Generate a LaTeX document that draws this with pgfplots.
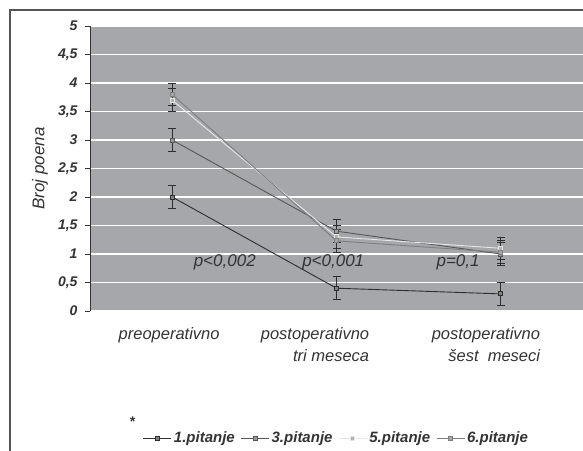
\documentclass[border=0pt]{standalone}
\usepackage{fontspec}
\setmainfont{Liberation Sans}
\usepackage{pgfplots}
\pgfplotsset{compat=1.18}
\definecolor{bg}{HTML}{A6A7AB}
\definecolor{frame}{HTML}{555555}
\definecolor{txt}{HTML}{333333}
\definecolor{ebar}{HTML}{2E2E2E}
\definecolor{sA}{HTML}{2E2E2E}
\definecolor{sB}{HTML}{575757}
\definecolor{sC}{HTML}{E6E6E6}
\definecolor{sD}{HTML}{7F7F7F}
\begin{document}
\begin{tikzpicture}
\useasboundingbox (-90bp,-140bp) rectangle (493bp,311bp);
\draw[line width=1.3bp, color=frame] (-80bp,-141bp) -- (-80bp,301bp) -- (494bp,301bp);
\begin{axis}[
  at={(0,0)}, anchor=south west,
  scale only axis, width=493bp, height=285bp,
  xmin=-0.5, xmax=2.5, ymin=0, ymax=5,
  clip=false,
  axis background/.style={fill=bg},
  axis lines*=left,
  x axis line style={draw=none},
  y axis line style={color=txt, line width=0.8bp},
  ytick={0,0.5,1,1.5,2,2.5,3,3.5,4,4.5,5},
  tick align=outside, major tick length=5bp,
  ytick style={color=txt, line width=0.8bp},
  xtick style={draw=none},
  ymajorgrids, grid style={white, line width=1.3bp},
  /pgf/number format/assume math mode=true,
  /pgf/number format/use comma,
  yticklabel style={font=\fontsize{14bp}{16bp}\selectfont\bfseries\itshape, text=txt, anchor=east, xshift=-4bp},
  xtick={0.31,1.22,2.26},
  xticklabels={preoperativno,{postoperativno\\tri meseca},{postoperativno\\šest\ \ meseci}},
  xticklabel style={font=\fontsize{16.5bp}{22bp}\selectfont\itshape, text=txt, anchor=north east, align=right, yshift=-8bp},
  ylabel={Broj poena},
  every axis y label/.style={at={(rel axis cs:-0.1014,0.5)}, rotate=90, anchor=center, font=\fontsize{17bp}{20bp}\selectfont\itshape, text=txt},
  legend columns=4,
  legend style={at={(rel axis cs:0.5,-0.446)}, anchor=center, draw=none, fill=none,
    font=\fontsize{15bp}{17bp}\selectfont\bfseries\itshape, text=txt,
    /tikz/every even column/.append style={column sep=4bp}},
  legend image code/.code={\draw[mark repeat=2,mark phase=2,#1] plot coordinates {(0bp,0bp) (14bp,0bp) (28bp,0bp)};},
  every axis plot/.append style={line width=0.9bp},
]
\addplot[color=sA, mark=square*, mark size=2bp, mark options={fill=gray, draw=sA},
  error bars/.cd, y dir=both, y explicit,
  error bar style={color=ebar, line width=0.8bp},
  error mark options={rotate=90, mark size=4bp, color=ebar, line width=0.8bp}]
  coordinates {(0,2.0) +- (0,0.2) (1,0.4) +- (0,0.2) (2,0.3) +- (0,0.2)};
\addlegendentry{1.pitanje}
\addplot[color=sB, mark=square*, mark size=2bp, mark options={fill=gray!80, draw=sB},
  error bars/.cd, y dir=both, y explicit,
  error bar style={color=ebar, line width=0.8bp},
  error mark options={rotate=90, mark size=4bp, color=ebar, line width=0.8bp}]
  coordinates {(0,3.0) +- (0,0.2) (1,1.4) +- (0,0.2) (2,1.0) +- (0,0.2)};
\addlegendentry{3.pitanje}
\addplot[color=sC, mark=square*, mark size=2bp, mark options={fill=gray!60, draw=sC},
  error bars/.cd, y dir=both, y explicit,
  error bar style={color=ebar, line width=0.8bp},
  error mark options={rotate=90, mark size=4bp, color=ebar, line width=0.8bp}]
  coordinates {(0,3.7) +- (0,0.2) (1,1.3) +- (0,0.2) (2,1.1) +- (0,0.2)};
\addlegendentry{5.pitanje}
\addplot[color=sD, mark=square*, mark size=2bp, mark options={fill=gray!70, draw=sD},
  error bars/.cd, y dir=both, y explicit,
  error bar style={color=ebar, line width=0.8bp},
  error mark options={rotate=90, mark size=4bp, color=ebar, line width=0.8bp}]
  coordinates {(0,3.8) +- (0,0.2) (1,1.23) +- (0,0.2) (2,1.03) +- (0,0.2)};
\addlegendentry{6.pitanje}
\node[font=\fontsize{17bp}{20bp}\selectfont\itshape, text=txt] at (axis cs:0.32,0.85) {p<0,002};
\node[font=\fontsize{17bp}{20bp}\selectfont\itshape, text=txt] at (axis cs:0.98,0.85) {p<0,001};
\node[font=\fontsize{17bp}{20bp}\selectfont\itshape, text=txt] at (axis cs:1.74,0.85) {p=0,1};
\node[font=\fontsize{14bp}{16bp}\selectfont\bfseries\itshape, text=txt] at (axis cs:-0.244,-1.95) {*};
\end{axis}
\end{tikzpicture}
\end{document}
